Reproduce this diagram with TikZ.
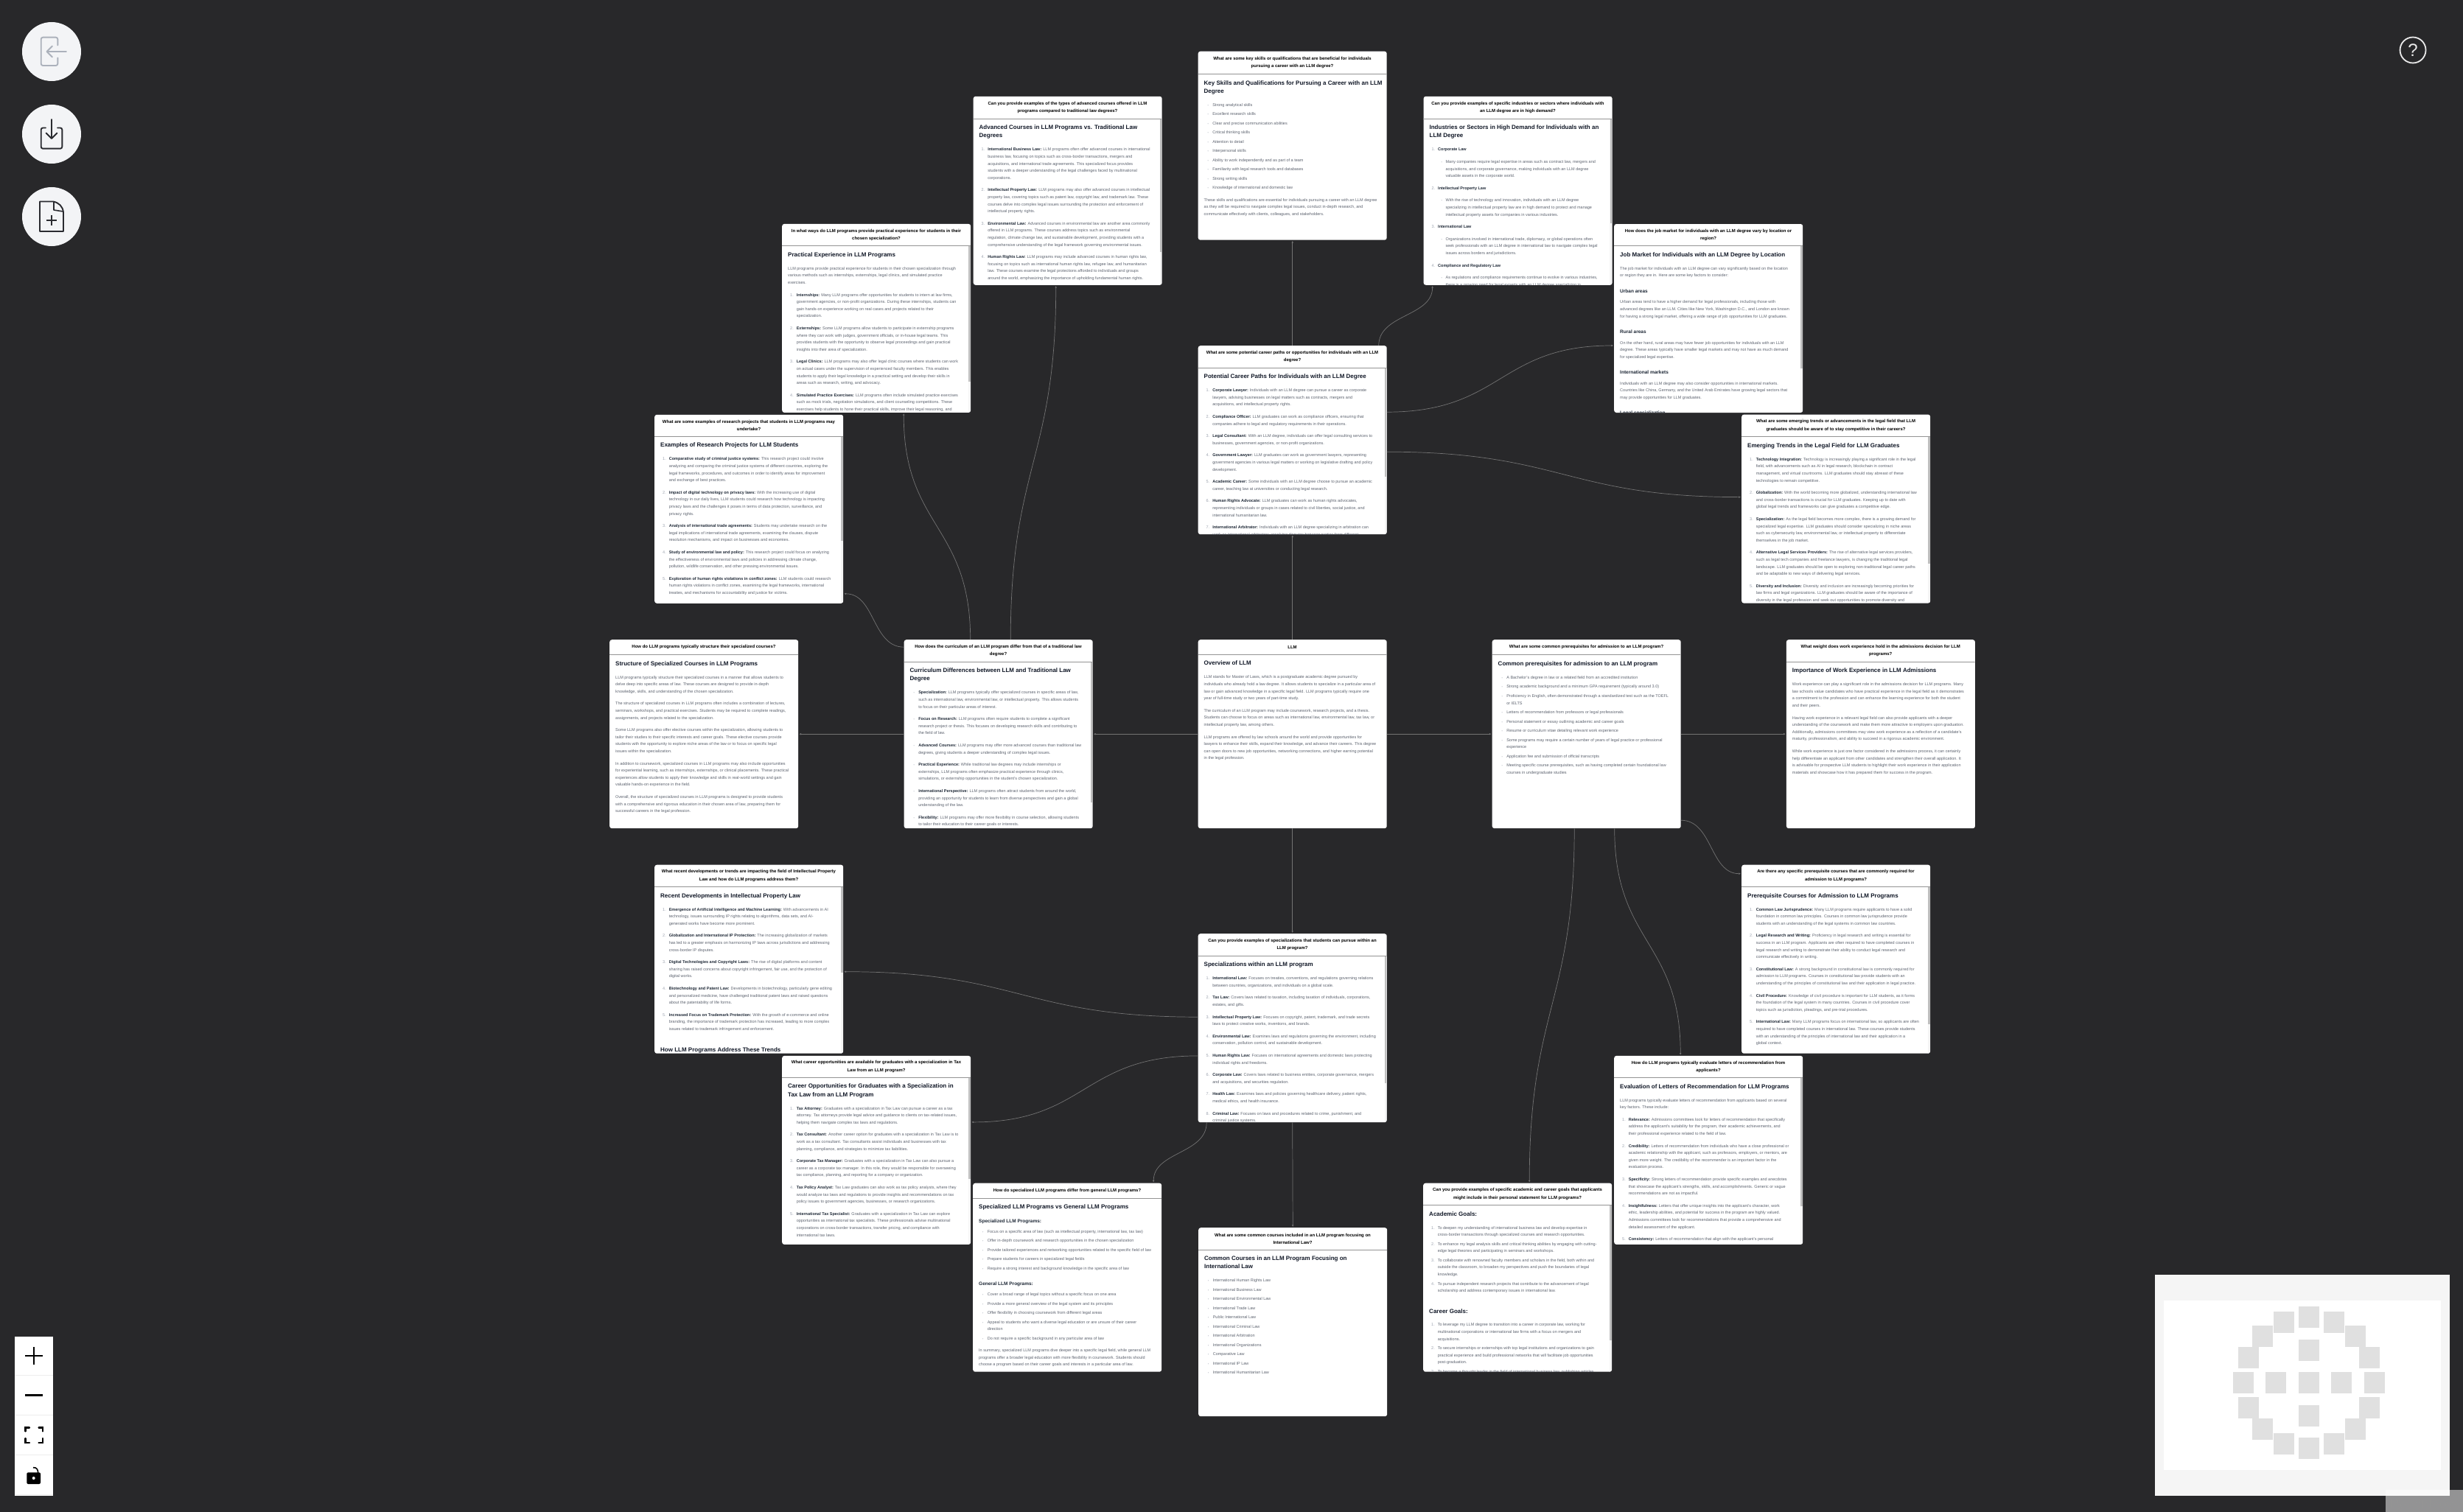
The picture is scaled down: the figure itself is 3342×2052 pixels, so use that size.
\documentclass[tikz,border=0pt]{standalone}
\usepackage{fontspec}
\setmainfont{Liberation Sans}
\usetikzlibrary{arrows.meta, positioning, calc}

\definecolor{canvasbg}{HTML}{28282A}
\definecolor{panelbg}{HTML}{F3F4F6}
\definecolor{bodyink}{HTML}{5E6470}
\definecolor{leadink}{HTML}{1F2937}
\definecolor{headink}{HTML}{111827}
\definecolor{markink}{HTML}{9CA3AF}
\definecolor{iconink}{HTML}{2A2B30}

% text pieces of a card
\newcommand{\ttl}[1]{{\fontsize{8}{11}\selectfont\bfseries\color{headink}#1}}
\newcommand{\hthree}[1]{{\fontsize{6.5}{9}\selectfont\bfseries\color{leadink}#1}}
\newcommand{\lead}[1]{{\bfseries\color{leadink}#1}}
\newcommand{\numit}[2]{\hspace*{3pt}\makebox[8.6pt][l]{\color{markink}#1}#2}
\newcommand{\bulit}[1]{\hspace*{5pt}\makebox[6.6pt][l]{\color{markink}\fontsize{3.6}{3.6}\selectfont\textbullet}#1}
\newcommand{\cont}[1]{\hspace*{11.6pt}#1}
\newcommand{\subit}[1]{\hspace*{16pt}\makebox[6pt][l]{\color{markink}\fontsize{3.6}{3.6}\selectfont\textbullet}#1}
\newcommand{\subct}[1]{\hspace*{22pt}#1}
\newcommand{\pgap}{\\[7pt]}
\newcommand{\bgap}{\\[2.9pt]}
\newcommand{\tgap}{\\[8.4pt]}
\newcommand{\tline}{\\[1.6pt]}

% name, x, y, header height, scroll thumb height, question, body
\newcommand{\llmcard}[7]{
    \node[cardbox] (#1) at (#2,#3) {};
    \begin{scope}
        \clip[rounded corners=3pt] (#2,#3) rectangle ++(256,256);
        \ifnum#5>0
            \fill[fill=black!4] (#2+253,#3+#4) rectangle ++(3,256-#4);
            \fill[fill=black!25] (#2+253.4,#3+#4) rectangle ++(2.2,#5);
        \fi
        \draw[headrule] (#2,#3+#4) -- ++(256,0);
        \node[bodytext] (#1-body) at (#2+8,#3+#4+8.6) {#7};
    \end{scope}
    \node[asktext] (#1-ask) at (#2+128,#3+#4/2) {#6};
}

\begin{document}
\begin{tikzpicture}[x=1pt, y=-1pt,
    cardbox/.style={rectangle, anchor=north west, fill=white, rounded corners=3pt, minimum width=256pt, minimum height=256pt, inner sep=0pt},
    asktext/.style={align=center, inner sep=0pt, text=black, font=\fontsize{6}{10.2}\selectfont\bfseries},
    bodytext/.style={anchor=north west, align=left, inner sep=0pt, text=bodyink, font=\fontsize{5.5}{9.6}\selectfont},
    headrule/.style={draw=black!42, line width=1pt},
    linkline/.style={draw=black!55, line width=0.7pt, shorten >=1pt, -{Latex[length=2.6pt,width=2.6pt]}, looseness=1.25},
    icondraw/.style={line width=1.9pt, line cap=round, line join=round, rounded corners=2.5pt},
    ctrlbtn/.style={line width=1.8pt, draw=black}
]
    \fill[canvasbg] (0,0) rectangle (3342,2052);

    % question and answer cards
    \llmcard{key}{1625.5}{69.5}{31}{0}{What are some key skills or qualifications that are beneficial for individuals\\pursuing a career with an LLM degree?}{%
        \ttl{Key Skills and Qualifications for Pursuing a Career with an LLM}\tline
        \ttl{Degree}\tgap
        \bulit{Strong analytical skills}\bgap
        \bulit{Excellent research skills}\bgap
        \bulit{Clear and precise communication abilities}\bgap
        \bulit{Critical thinking skills}\bgap
        \bulit{Attention to detail}\bgap
        \bulit{Interpersonal skills}\bgap
        \bulit{Ability to work independently and as part of a team}\bgap
        \bulit{Familiarity with legal research tools and databases}\bgap
        \bulit{Strong writing skills}\bgap
        \bulit{Knowledge of international and domestic law}\pgap
        These skills and qualifications are essential for individuals pursuing a career with an LLM degree\\
        as they will be required to navigate complex legal issues, conduct in-depth research, and\\
        communicate effectively with clients, colleagues, and stakeholders.}

    \llmcard{advanced}{1320.5}{130.6}{30.5}{181}{Can you provide examples of the types of advanced courses offered in LLM\\programs compared to traditional law degrees?}{%
        \ttl{Advanced Courses in LLM Programs vs. Traditional Law}\tline
        \ttl{Degrees}\tgap
        \numit{1.}{\lead{International Business Law:} LLM programs often offer advanced courses in international}\\
        \cont{business law, focusing on topics such as cross-border transactions, mergers and}\\
        \cont{acquisitions, and international trade agreements. This specialized focus provides}\\
        \cont{students with a deeper understanding of the legal challenges faced by multinational}\\
        \cont{corporations.}\pgap
        \numit{2.}{\lead{Intellectual Property Law:} LLM programs may also offer advanced courses in intellectual}\\
        \cont{property law, covering topics such as patent law, copyright law, and trademark law. These}\\
        \cont{courses delve into complex legal issues surrounding the protection and enforcement of}\\
        \cont{intellectual property rights.}\pgap
        \numit{3.}{\lead{Environmental Law:} Advanced courses in environmental law are another area commonly}\\
        \cont{offered in LLM programs. These courses address topics such as environmental}\\
        \cont{regulation, climate change law, and sustainable development, providing students with a}\\
        \cont{comprehensive understanding of the legal framework governing environmental issues.}\pgap
        \numit{4.}{\lead{Human Rights Law:} LLM programs may include advanced courses in human rights law,}\\
        \cont{focusing on topics such as international human rights law, refugee law, and humanitarian}\\
        \cont{law. These courses examine the legal protections afforded to individuals and groups}\\
        \cont{around the world, emphasizing the importance of upholding fundamental human rights.}}

    \llmcard{industries}{1931.4}{130.6}{30.5}{142}{Can you provide examples of specific industries or sectors where individuals with\\an LLM degree are in high demand?}{%
        \ttl{Industries or Sectors in High Demand for Individuals with an}\tline
        \ttl{LLM Degree}\tgap
        \numit{1.}{\lead{Corporate Law}}\pgap
        \subit{Many companies require legal expertise in areas such as contract law, mergers and}\\
        \subct{acquisitions, and corporate governance, making individuals with an LLM degree}\\
        \subct{valuable assets in the corporate world.}\pgap
        \numit{2.}{\lead{Intellectual Property Law}}\pgap
        \subit{With the rise of technology and innovation, individuals with an LLM degree}\\
        \subct{specializing in intellectual property law are in high demand to protect and manage}\\
        \subct{intellectual property assets for companies in various industries.}\pgap
        \numit{3.}{\lead{International Law}}\pgap
        \subit{Organizations involved in international trade, diplomacy, or global operations often}\\
        \subct{seek professionals with an LLM degree in international law to navigate complex legal}\\
        \subct{issues across borders and jurisdictions.}\pgap
        \numit{4.}{\lead{Compliance and Regulatory Law}}\pgap
        \subit{As regulations and compliance requirements continue to evolve in various industries,}\\
        \subct{there is a growing need for legal experts with an LLM degree specializing in}}

    \llmcard{practical}{1061}{303.7}{30}{184}{In what ways do LLM programs provide practical experience for students in their\\chosen specialization?}{%
        \ttl{Practical Experience in LLM Programs}\tgap
        LLM programs provide practical experience for students in their chosen specialization through\\
        various methods such as internships, externships, legal clinics, and simulated practice\\
        exercises.\pgap
        \numit{1.}{\lead{Internships:} Many LLM programs offer opportunities for students to intern at law firms,}\\
        \cont{government agencies, or non-profit organizations. During these internships, students can}\\
        \cont{gain hands-on experience working on real cases and projects related to their}\\
        \cont{specialization.}\pgap
        \numit{2.}{\lead{Externships:} Some LLM programs allow students to participate in externship programs}\\
        \cont{where they can work with judges, government officials, or in-house legal teams. This}\\
        \cont{provides students with the opportunity to observe legal proceedings and gain practical}\\
        \cont{insights into their area of specialization.}\pgap
        \numit{3.}{\lead{Legal Clinics:} LLM programs may also offer legal clinic courses where students can work}\\
        \cont{on actual cases under the supervision of experienced faculty members. This enables}\\
        \cont{students to apply their legal knowledge in a practical setting and develop their skills in}\\
        \cont{areas such as research, writing, and advocacy.}\pgap
        \numit{4.}{\lead{Simulated Practice Exercises:} LLM programs often include simulated practice exercises}\\
        \cont{such as mock trials, negotiation simulations, and client counseling competitions. These}\\
        \cont{exercises help students to hone their practical skills, improve their legal reasoning, and}}

    \llmcard{research}{888}{562.6}{29.6}{142}{What are some examples of research projects that students in LLM programs may\\undertake?}{%
        \ttl{Examples of Research Projects for LLM Students}\tgap
        \numit{1.}{\lead{Comparative study of criminal justice systems:} This research project could involve}\\
        \cont{analyzing and comparing the criminal justice systems of different countries, exploring the}\\
        \cont{legal frameworks, procedures, and outcomes in order to identify areas for improvement}\\
        \cont{and exchange of best practices.}\pgap
        \numit{2.}{\lead{Impact of digital technology on privacy laws:} With the increasing use of digital}\\
        \cont{technology in our daily lives, LLM students could research how technology is impacting}\\
        \cont{privacy laws and the challenges it poses in terms of data protection, surveillance, and}\\
        \cont{privacy rights.}\pgap
        \numit{3.}{\lead{Analysis of international trade agreements:} Students may undertake research on the}\\
        \cont{legal implications of international trade agreements, examining the clauses, dispute}\\
        \cont{resolution mechanisms, and impact on businesses and economies.}\pgap
        \numit{4.}{\lead{Study of environmental law and policy:} This research project could focus on analyzing}\\
        \cont{the effectiveness of environmental laws and policies in addressing climate change,}\\
        \cont{pollution, wildlife conservation, and other pressing environmental issues.}\pgap
        \numit{5.}{\lead{Exploration of human rights violations in conflict zones:} LLM students could research}\\
        \cont{human rights violations in conflict zones, examining the legal frameworks, international}\\
        \cont{treaties, and mechanisms for accountability and justice for victims.}}

    \llmcard{career}{1625.5}{469}{30}{148}{What are some potential career paths or opportunities for individuals with an LLM\\degree?}{%
        \ttl{Potential Career Paths for Individuals with an LLM Degree}\tgap
        \numit{1.}{\lead{Corporate Lawyer:} Individuals with an LLM degree can pursue a career as corporate}\\
        \cont{lawyers, advising businesses on legal matters such as contracts, mergers and}\\
        \cont{acquisitions, and intellectual property rights.}\pgap
        \numit{2.}{\lead{Compliance Officer:} LLM graduates can work as compliance officers, ensuring that}\\
        \cont{companies adhere to legal and regulatory requirements in their operations.}\pgap
        \numit{3.}{\lead{Legal Consultant:} With an LLM degree, individuals can offer legal consulting services to}\\
        \cont{businesses, government agencies, or non-profit organizations.}\pgap
        \numit{4.}{\lead{Government Lawyer:} LLM graduates can work as government lawyers, representing}\\
        \cont{government agencies in various legal matters or working on legislative drafting and policy}\\
        \cont{development.}\pgap
        \numit{5.}{\lead{Academic Career:} Some individuals with an LLM degree choose to pursue an academic}\\
        \cont{career, teaching law at universities or conducting legal research.}\pgap
        \numit{6.}{\lead{Human Rights Advocate:} LLM graduates can work as human rights advocates,}\\
        \cont{representing individuals or groups in cases related to civil liberties, social justice, and}\\
        \cont{international humanitarian law.}\pgap
        \numit{7.}{\lead{International Arbitrator:} Individuals with an LLM degree specializing in arbitration can}\\
        \cont{work as international arbitrators, resolving disputes between parties from different}}

    \llmcard{job}{2190}{303.8}{29.8}{166}{How does the job market for individuals with an LLM degree vary by location or\\region?}{%
        \ttl{Job Market for Individuals with an LLM Degree by Location}\tgap
        The job market for individuals with an LLM degree can vary significantly based on the location\\
        or region they are in. Here are some key factors to consider:\\[11.8pt]
        \hthree{Urban areas}\\[5pt]
        Urban areas tend to have a higher demand for legal professionals, including those with\\
        advanced degrees like an LLM. Cities like New York, Washington D.C., and London are known\\
        for having a strong legal market, offering a wide range of job opportunities for LLM graduates.\\[11.8pt]
        \hthree{Rural areas}\\[5pt]
        On the other hand, rural areas may have fewer job opportunities for individuals with an LLM\\
        degree. These areas typically have smaller legal markets and may not have as much demand\\
        for specialized legal expertise.\\[11.8pt]
        \hthree{International markets}\\[5pt]
        Individuals with an LLM degree may also consider opportunities in international markets.\\
        Countries like China, Germany, and the United Arab Emirates have growing legal sectors that\\
        may provide opportunities for LLM graduates.\\[11.8pt]
        \hthree{Legal specialization}}

    \llmcard{emerging}{2363}{562.4}{30.2}{172}{What are some emerging trends or advancements in the legal field that LLM\\graduates should be aware of to stay competitive in their careers?}{%
        \ttl{Emerging Trends in the Legal Field for LLM Graduates}\tgap
        \numit{1.}{\lead{Technology Integration:} Technology is increasingly playing a significant role in the legal}\\
        \cont{field, with advancements such as AI in legal research, blockchain in contract}\\
        \cont{management, and virtual courtrooms. LLM graduates should stay abreast of these}\\
        \cont{technologies to remain competitive.}\pgap
        \numit{2.}{\lead{Globalization:} With the world becoming more globalized, understanding international law}\\
        \cont{and cross-border transactions is crucial for LLM graduates. Keeping up to date with}\\
        \cont{global legal trends and frameworks can give graduates a competitive edge.}\pgap
        \numit{3.}{\lead{Specialization:} As the legal field becomes more complex, there is a growing demand for}\\
        \cont{specialized legal expertise. LLM graduates should consider specializing in niche areas}\\
        \cont{such as cybersecurity law, environmental law, or intellectual property to differentiate}\\
        \cont{themselves in the job market.}\pgap
        \numit{4.}{\lead{Alternative Legal Services Providers:} The rise of alternative legal services providers,}\\
        \cont{such as legal tech companies and freelance lawyers, is changing the traditional legal}\\
        \cont{landscape. LLM graduates should be open to exploring non-traditional legal career paths}\\
        \cont{and be adaptable to new ways of delivering legal services.}\pgap
        \numit{5.}{\lead{Diversity and Inclusion:} Diversity and inclusion are increasingly becoming priorities for}\\
        \cont{law firms and legal organizations. LLM graduates should be aware of the importance of}\\
        \cont{diversity in the legal profession and seek out opportunities to promote diversity and}}

    \llmcard{structure}{827}{868}{20.5}{0}{How do LLM programs typically structure their specialized courses?}{%
        \ttl{Structure of Specialized Courses in LLM Programs}\tgap
        LLM programs typically structure their specialized courses in a manner that allows students to\\
        delve deep into specific areas of law. These courses are designed to provide in-depth\\
        knowledge, skills, and understanding of the chosen specialization.\pgap
        The structure of specialized courses in LLM programs often includes a combination of lectures,\\
        seminars, workshops, and practical exercises. Students may be required to complete readings,\\
        assignments, and projects related to the specialization.\pgap
        Some LLM programs also offer elective courses within the specialization, allowing students to\\
        tailor their studies to their specific interests and career goals. These elective courses provide\\
        students with the opportunity to explore niche areas of the law or to focus on specific legal\\
        issues within the specialization.\pgap
        In addition to coursework, specialized courses in LLM programs may also include opportunities\\
        for experiential learning, such as internships, externships, or clinical placements. These practical\\
        experiences allow students to apply their knowledge and skills in real-world settings and gain\\
        valuable hands-on experience in the field.\pgap
        Overall, the structure of specialized courses in LLM programs is designed to provide students\\
        with a comprehensive and rigorous education in their chosen area of law, preparing them for\\
        successful careers in the legal profession.}

    \llmcard{curriculum}{1226.5}{868}{30}{191}{How does the curriculum of an LLM program differ from that of a traditional law\\degree?}{%
        \ttl{Curriculum Differences between LLM and Traditional Law}\tline
        \ttl{Degree}\tgap
        \bulit{\lead{Specialization:} LLM programs typically offer specialized courses in specific areas of law,}\\
        \cont{such as international law, environmental law, or intellectual property. This allows students}\\
        \cont{to focus on their particular areas of interest.}\pgap
        \bulit{\lead{Focus on Research:} LLM programs often require students to complete a significant}\\
        \cont{research project or thesis. This focuses on developing research skills and contributing to}\\
        \cont{the field of law.}\pgap
        \bulit{\lead{Advanced Courses:} LLM programs may offer more advanced courses than traditional law}\\
        \cont{degrees, giving students a deeper understanding of complex legal issues.}\pgap
        \bulit{\lead{Practical Experience:} While traditional law degrees may include internships or}\\
        \cont{externships, LLM programs often emphasize practical experience through clinics,}\\
        \cont{simulations, or externship opportunities in the student's chosen specialization.}\pgap
        \bulit{\lead{International Perspective:} LLM programs often attract students from around the world,}\\
        \cont{providing an opportunity for students to learn from diverse perspectives and gain a global}\\
        \cont{understanding of the law.}\pgap
        \bulit{\lead{Flexibility:} LLM programs may offer more flexibility in course selection, allowing students}\\
        \cont{to tailor their education to their career goals or interests.}}

    \llmcard{llm}{1625.5}{868}{20.3}{0}{LLM}{%
        \ttl{Overview of LLM}\tgap
        LLM stands for Master of Laws, which is a postgraduate academic degree pursued by\\
        individuals who already hold a law degree. It allows students to specialize in a particular area of\\
        law or gain advanced knowledge in a specific legal field. LLM programs typically require one\\
        year of full-time study or two years of part-time study.\pgap
        The curriculum of an LLM program may include coursework, research projects, and a thesis.\\
        Students can choose to focus on areas such as international law, environmental law, tax law, or\\
        intellectual property law, among others.\pgap
        LLM programs are offered by law schools around the world and provide opportunities for\\
        lawyers to enhance their skills, expand their knowledge, and advance their careers. This degree\\
        can open doors to new job opportunities, networking connections, and higher earning potential\\
        in the legal profession.}

    \llmcard{prereq}{2024.5}{868}{20.8}{0}{What are some common prerequisites for admission to an LLM program?}{%
        \ttl{Common prerequisites for admission to an LLM program}\tgap
        \bulit{A Bachelor's degree in law or a related field from an accredited institution}\bgap
        \bulit{Strong academic background and a minimum GPA requirement (typically around 3.0)}\bgap
        \bulit{Proficiency in English, often demonstrated through a standardized test such as the TOEFL}\\
        \cont{or IELTS}\bgap
        \bulit{Letters of recommendation from professors or legal professionals}\bgap
        \bulit{Personal statement or essay outlining academic and career goals}\bgap
        \bulit{Resume or curriculum vitae detailing relevant work experience}\bgap
        \bulit{Some programs may require a certain number of years of legal practice or professional}\\
        \cont{experience}\bgap
        \bulit{Application fee and submission of official transcripts}\bgap
        \bulit{Meeting specific course prerequisites, such as having completed certain foundational law}\\
        \cont{courses in undergraduate studies}}

    \llmcard{work}{2423.7}{868}{30}{0}{What weight does work experience hold in the admissions decision for LLM\\programs?}{%
        \ttl{Importance of Work Experience in LLM Admissions}\tgap
        Work experience can play a significant role in the admissions decision for LLM programs. Many\\
        law schools value candidates who have practical experience in the legal field as it demonstrates\\
        a commitment to the profession and can enhance the learning experience for both the student\\
        and their peers.\pgap
        Having work experience in a relevant legal field can also provide applicants with a deeper\\
        understanding of the coursework and make them more attractive to employers upon graduation.\\
        Additionally, admissions committees may view work experience as a reflection of a candidate's\\
        maturity, professionalism, and ability to succeed in a rigorous academic environment.\pgap
        While work experience is just one factor considered in the admissions process, it can certainly\\
        help differentiate an applicant from other candidates and strengthen their overall application. It\\
        is advisable for prospective LLM students to highlight their work experience in their application\\
        materials and showcase how it has prepared them for success in the program.}

    \llmcard{recent}{888}{1173.5}{30}{116}{What recent developments or trends are impacting the field of Intellectual Property\\Law and how do LLM programs address them?}{%
        \ttl{Recent Developments in Intellectual Property Law}\tgap
        \numit{1.}{\lead{Emergence of Artificial Intelligence and Machine Learning:} With advancements in AI}\\
        \cont{technology, issues surrounding IP rights relating to algorithms, data sets, and AI-}\\
        \cont{generated works have become more prominent.}\pgap
        \numit{2.}{\lead{Globalization and International IP Protection:} The increasing globalization of markets}\\
        \cont{has led to a greater emphasis on harmonizing IP laws across jurisdictions and addressing}\\
        \cont{cross-border IP disputes.}\pgap
        \numit{3.}{\lead{Digital Technologies and Copyright Laws:} The rise of digital platforms and content}\\
        \cont{sharing has raised concerns about copyright infringement, fair use, and the protection of}\\
        \cont{digital works.}\pgap
        \numit{4.}{\lead{Biotechnology and Patent Law:} Developments in biotechnology, particularly gene editing}\\
        \cont{and personalized medicine, have challenged traditional patent laws and raised questions}\\
        \cont{about the patentability of life forms.}\pgap
        \numit{5.}{\lead{Increased Focus on Trademark Protection:} With the growth of e-commerce and online}\\
        \cont{branding, the importance of trademark protection has increased, leading to more complex}\\
        \cont{issues related to trademark infringement and enforcement.}\\[19pt]
        \ttl{How LLM Programs Address These Trends}}

    \llmcard{courses}{2363}{1173.5}{30}{186}{Are there any specific prerequisite courses that are commonly required for\\admission to LLM programs?}{%
        \ttl{Prerequisite Courses for Admission to LLM Programs}\tgap
        \numit{1.}{\lead{Common Law Jurisprudence:} Many LLM programs require applicants to have a solid}\\
        \cont{foundation in common law principles. Courses in common law jurisprudence provide}\\
        \cont{students with an understanding of the legal systems in common law countries.}\pgap
        \numit{2.}{\lead{Legal Research and Writing:} Proficiency in legal research and writing is essential for}\\
        \cont{success in an LLM program. Applicants are often required to have completed courses in}\\
        \cont{legal research and writing to demonstrate their ability to conduct legal research and}\\
        \cont{communicate effectively in writing.}\pgap
        \numit{3.}{\lead{Constitutional Law:} A strong background in constitutional law is commonly required for}\\
        \cont{admission to LLM programs. Courses in constitutional law provide students with an}\\
        \cont{understanding of the principles of constitutional law and their application in legal practice.}\pgap
        \numit{4.}{\lead{Civil Procedure:} Knowledge of civil procedure is important for LLM students, as it forms}\\
        \cont{the foundation of the legal system in many countries. Courses in civil procedure cover}\\
        \cont{topics such as jurisdiction, pleadings, and pre-trial procedures.}\pgap
        \numit{5.}{\lead{International Law:} Many LLM programs focus on international law, so applicants are often}\\
        \cont{required to have completed courses in international law. These courses provide students}\\
        \cont{with an understanding of the principles of international law and their application in a}\\
        \cont{global context.}}

    \llmcard{special}{1625.5}{1267}{30}{173}{Can you provide examples of specializations that students can pursue within an\\LLM program?}{%
        \ttl{Specializations within an LLM program}\tgap
        \numit{1.}{\lead{International Law:} Focuses on treaties, conventions, and regulations governing relations}\\
        \cont{between countries, organizations, and individuals on a global scale.}\pgap
        \numit{2.}{\lead{Tax Law:} Covers laws related to taxation, including taxation of individuals, corporations,}\\
        \cont{estates, and gifts.}\pgap
        \numit{3.}{\lead{Intellectual Property Law:} Focuses on copyright, patent, trademark, and trade secrets}\\
        \cont{laws to protect creative works, inventions, and brands.}\pgap
        \numit{4.}{\lead{Environmental Law:} Examines laws and regulations governing the environment, including}\\
        \cont{conservation, pollution control, and sustainable development.}\pgap
        \numit{5.}{\lead{Human Rights Law:} Focuses on international agreements and domestic laws protecting}\\
        \cont{individual rights and freedoms.}\pgap
        \numit{6.}{\lead{Corporate Law:} Covers laws related to business entities, corporate governance, mergers}\\
        \cont{and acquisitions, and securities regulation.}\pgap
        \numit{7.}{\lead{Health Law:} Examines laws and policies governing healthcare delivery, patient rights,}\\
        \cont{medical ethics, and health insurance.}\pgap
        \numit{8.}{\lead{Criminal Law:} Focuses on laws and procedures related to crime, punishment, and}\\
        \cont{criminal justice systems.}}

    \llmcard{taxjobs}{1061}{1432.7}{29.6}{138}{What career opportunities are available for graduates with a specialization in Tax\\Law from an LLM program?}{%
        \ttl{Career Opportunities for Graduates with a Specialization in}\tline
        \ttl{Tax Law from an LLM Program}\tgap
        \numit{1.}{\lead{Tax Attorney:} Graduates with a specialization in Tax Law can pursue a career as a tax}\\
        \cont{attorney. Tax attorneys provide legal advice and guidance to clients on tax-related issues,}\\
        \cont{helping them navigate complex tax laws and regulations.}\pgap
        \numit{2.}{\lead{Tax Consultant:} Another career option for graduates with a specialization in Tax Law is to}\\
        \cont{work as a tax consultant. Tax consultants assist individuals and businesses with tax}\\
        \cont{planning, compliance, and strategies to minimize tax liabilities.}\pgap
        \numit{3.}{\lead{Corporate Tax Manager:} Graduates with a specialization in Tax Law can also pursue a}\\
        \cont{career as a corporate tax manager. In this role, they would be responsible for overseeing}\\
        \cont{tax compliance, planning, and reporting for a company or organization.}\pgap
        \numit{4.}{\lead{Tax Policy Analyst:} Tax Law graduates can also work as tax policy analysts, where they}\\
        \cont{would analyze tax laws and regulations to provide insights and recommendations on tax}\\
        \cont{policy issues to government agencies, businesses, or research organizations.}\pgap
        \numit{5.}{\lead{International Tax Specialist:} Graduates with a specialization in Tax Law can explore}\\
        \cont{opportunities as international tax specialists. These professionals advise multinational}\\
        \cont{corporations on cross-border transactions, transfer pricing, and compliance with}\\
        \cont{international tax laws.}}

    \llmcard{letters}{2190}{1432.7}{29.8}{174}{How do LLM programs typically evaluate letters of recommendation from\\applicants?}{%
        \ttl{Evaluation of Letters of Recommendation for LLM Programs}\tgap
        LLM programs typically evaluate letters of recommendation from applicants based on several\\
        key factors. These include:\pgap
        \numit{1.}{\lead{Relevance:} Admissions committees look for letters of recommendation that specifically}\\
        \cont{address the applicant's suitability for the program, their academic achievements, and}\\
        \cont{their professional experience related to the field of law.}\pgap
        \numit{2.}{\lead{Credibility:} Letters of recommendation from individuals who have a close professional or}\\
        \cont{academic relationship with the applicant, such as professors, employers, or mentors, are}\\
        \cont{given more weight. The credibility of the recommender is an important factor in the}\\
        \cont{evaluation process.}\pgap
        \numit{3.}{\lead{Specificity:} Strong letters of recommendation provide specific examples and anecdotes}\\
        \cont{that showcase the applicant's strengths, skills, and accomplishments. Generic or vague}\\
        \cont{recommendations are not as impactful.}\pgap
        \numit{4.}{\lead{Insightfulness:} Letters that offer unique insights into the applicant's character, work}\\
        \cont{ethic, leadership abilities, and potential for success in the program are highly valued.}\\
        \cont{Admissions committees look for recommendations that provide a comprehensive and}\\
        \cont{detailed assessment of the applicant.}\pgap
        \numit{5.}{\lead{Consistency:} Letters of recommendation that align with the applicant's personal}}

    \llmcard{versus}{1320}{1605.5}{20.5}{0}{How do specialized LLM programs differ from general LLM programs?}{%
        \ttl{Specialized LLM Programs vs General LLM Programs}\\[9.5pt]
        \hthree{Specialized LLM Programs:}\\[4pt]
        \bulit{Focus on a specific area of law (such as intellectual property, international law, tax law)}\bgap
        \bulit{Offer in-depth coursework and research opportunities in the chosen specialization}\bgap
        \bulit{Provide tailored experiences and networking opportunities related to the specific field of law}\bgap
        \bulit{Prepare students for careers in specialized legal fields}\bgap
        \bulit{Require a strong interest and background knowledge in the specific area of law}\\[12pt]
        \hthree{General LLM Programs:}\\[4pt]
        \bulit{Cover a broad range of legal topics without a specific focus on one area}\bgap
        \bulit{Provide a more general overview of the legal system and its principles}\bgap
        \bulit{Offer flexibility in choosing coursework from different legal areas}\bgap
        \bulit{Appeal to students who want a diverse legal education or are unsure of their career}\\
        \cont{direction}\bgap
        \bulit{Do not require a specific background in any particular area of law}\pgap
        In summary, specialized LLM programs dive deeper into a specific legal field, while general LLM\\
        programs offer a broader legal education with more flexibility in coursework. Students should\\
        choose a program based on their career goals and interests in a particular area of law.}

    \llmcard{academic}{1931}{1605.5}{30}{183}{Can you provide examples of specific academic and career goals that applicants\\might include in their personal statement for LLM programs?}{%
        \ttl{Academic Goals:}\tgap
        \numit{1.}{To deepen my understanding of international business law and develop expertise in}\\
        \cont{cross-border transactions through specialized courses and research opportunities.}\bgap
        \numit{2.}{To enhance my legal analysis skills and critical thinking abilities by engaging with cutting-}\\
        \cont{edge legal theories and participating in seminars and workshops.}\bgap
        \numit{3.}{To collaborate with renowned faculty members and scholars in the field, both within and}\\
        \cont{outside the classroom, to broaden my perspectives and push the boundaries of legal}\\
        \cont{knowledge.}\bgap
        \numit{4.}{To pursue independent research projects that contribute to the advancement of legal}\\
        \cont{scholarship and address contemporary issues in international law.}\\[19pt]
        \ttl{Career Goals:}\\[8pt]
        \numit{1.}{To leverage my LLM degree to transition into a career in corporate law, working for}\\
        \cont{multinational corporations or international law firms with a focus on mergers and}\\
        \cont{acquisitions.}\bgap
        \numit{2.}{To secure internships or externships with top legal institutions and organizations to gain}\\
        \cont{practical experience and build professional networks that will facilitate job opportunities}\\
        \cont{post-graduation.}\bgap
        \numit{3.}{To become a thought leader in the field of international business law, publishing articles,}}

    \llmcard{intlcourses}{1626}{1666}{30}{0}{What are some common courses included in an LLM program focusing on\\International Law?}{%
        \ttl{Common Courses in an LLM Program Focusing on}\tline
        \ttl{International Law}\tgap
        \bulit{International Human Rights Law}\bgap
        \bulit{International Business Law}\bgap
        \bulit{International Environmental Law}\bgap
        \bulit{International Trade Law}\bgap
        \bulit{Public International Law}\bgap
        \bulit{International Criminal Law}\bgap
        \bulit{International Arbitration}\bgap
        \bulit{International Organizations}\bgap
        \bulit{Comparative Law}\bgap
        \bulit{International IP Law}\bgap
        \bulit{International Humanitarian Law}}

    % connectors
    \draw[linkline] (career.north) -- (key.south);
    \draw[linkline, looseness=1] ([xshift=117pt]career.north) to[out=90,in=270] ([xshift=-116pt]industries.south);
    \draw[linkline] ([yshift=38pt]career.east) to[out=0,in=180] ([yshift=-37pt]job.west);
    \draw[linkline] ([yshift=-16pt]career.east) to[out=0,in=180] ([yshift=16pt]emerging.west);
    \draw[linkline] (llm.north) -- (career.south);
    \draw[linkline] (llm.west) -- (curriculum.east);
    \draw[linkline] (curriculum.west) -- (structure.east);
    \draw[linkline] ([xshift=-38pt]curriculum.north) to[out=90,in=270] ([xshift=37pt]practical.south);
    \draw[linkline] ([xshift=16.5pt]curriculum.north) to[out=90,in=270] ([xshift=-16pt]advanced.south);
    \draw[linkline, looseness=1] ([yshift=118pt]curriculum.west) to[out=180,in=0] ([yshift=-115pt]research.east);
    \draw[linkline] (llm.east) -- (prereq.west);
    \draw[linkline] (prereq.east) -- (work.west);
    \draw[linkline, looseness=1] ([yshift=-117pt]prereq.east) to[out=0,in=180] ([yshift=116pt]courses.west);
    \draw[linkline] ([xshift=-16.5pt]prereq.south) to[out=270,in=90] ([xshift=16pt]academic.north);
    \draw[linkline] ([xshift=38pt]prereq.south) to[out=270,in=90] ([xshift=-38pt]letters.north);
    \draw[linkline] (llm.south) -- (special.north);
    \draw[linkline] ([yshift=15pt]special.west) to[out=180,in=0] ([yshift=-17pt]recent.east);
    \draw[linkline] ([yshift=-37.7pt]special.west) to[out=180,in=0] ([yshift=38pt]taxjobs.east);
    \draw[linkline, looseness=1] ([xshift=-116.5pt]special.south) to[out=270,in=90] ([xshift=117pt]versus.north);
    \draw[linkline] (special.south) -- (intlcourses.north);

    % left tool buttons
    \fill[panelbg] (70,70) circle (40);
    \fill[panelbg] (70,182) circle (40);
    \fill[panelbg] (70,294) circle (40);
    \draw[icondraw, draw=markink!85] (78.3,61.5) -- (78.3,50.7) -- (55.7,50.7) -- (55.7,89) -- (78.3,89) -- (78.3,78.5);
    \draw[line width=1.9pt, line cap=round, line join=round, draw=markink!85] (90,70) -- (63.5,70) (71,62.5) -- (63.5,70) -- (71,77.5);
    \draw[icondraw, draw=iconink] (62,173.5) -- (55.7,173.5) -- (55.7,201.7) -- (84.3,201.7) -- (84.3,173.5) -- (78,173.5);
    \draw[line width=1.9pt, line cap=round, line join=round, draw=iconink] (70,162) -- (70,188) (62.5,180.5) -- (70,188) -- (77.5,180.5);
    \draw[line width=1.9pt, line join=round, draw=iconink] (54,273.5) -- (72,273.5) .. controls (80,275) and (85,280) .. (86,288) -- (86,314) -- (54,314) -- cycle;
    \draw[line width=1.6pt, line join=round, draw=iconink] (73,274) -- (73,285) -- (85.5,287);
    \draw[line width=1.9pt, draw=iconink] (62.7,299) -- (77.3,299) (70,291.7) -- (70,306);

    % help button
    \draw[draw=white!92!black, line width=1.8pt] (3274,68) circle (17.5);
    \node[inner sep=0pt, text=white!92!black, font=\fontsize{24}{24}\selectfont] (helpmark) at (3274,68) {?};

    % zoom controls
    \fill[white] (20,1814) rectangle (72,2030);
    \foreach \rowy in {1867,1921,1975,2029} {
        \fill[black!7] (20,\rowy-1) rectangle (72,\rowy);
    }
    \draw[ctrlbtn] (34,1840) -- (58,1840) (46,1828) -- (46,1852);
    \draw[line width=2.4pt] (34,1893.5) -- (58,1893.5);
    \draw[ctrlbtn, line cap=round, line width=2.2pt] (34.5,1942.5) |- (40,1937.5) (52.5,1937.5) -| (58,1942.5) (58,1952) |- (52.5,1958) (40,1958) -| (34.5,1952);
    \fill[black, rounded corners=2pt] (36.3,1998.3) rectangle (55,2014);
    \draw[line width=1.6pt] (45,1991.7) .. controls (49,1991) and (51.7,1994) .. (51.7,1999);
    \fill[white] (45.7,2006) circle (2);

    % minimap
    \fill[black!4] (2924,1730) rectangle (3324,2030);
    \fill[white] (2936.3,1765) rectangle (3311.7,1995);
    \foreach \mx/\my in {3119/1773,3085/1780,3153/1780,3056/1799,3182/1799,3037/1828,3201/1828,3119/1818,
                         3030/1862,3074/1862,3119/1862,3163/1862,3208/1862,3037/1896,3201/1896,3119/1907,
                         3056/1925,3182/1925,3085/1945,3153/1945,3119/1951} {
        \fill[black!12] (\mx,\my) rectangle ++(28,29);
    }
    % attribution
    \begin{scope}
        \clip (3237,2022) rectangle (3342,2052);
        \fill[white, fill opacity=0.5] (3237,2022) rectangle (3342,2052);
        \node[anchor=west, inner sep=0pt, text=black!42, font=\fontsize{18}{18}\selectfont] (reactflow) at (3243,2041) {React Flow};
    \end{scope}
\end{tikzpicture}
\end{document}
